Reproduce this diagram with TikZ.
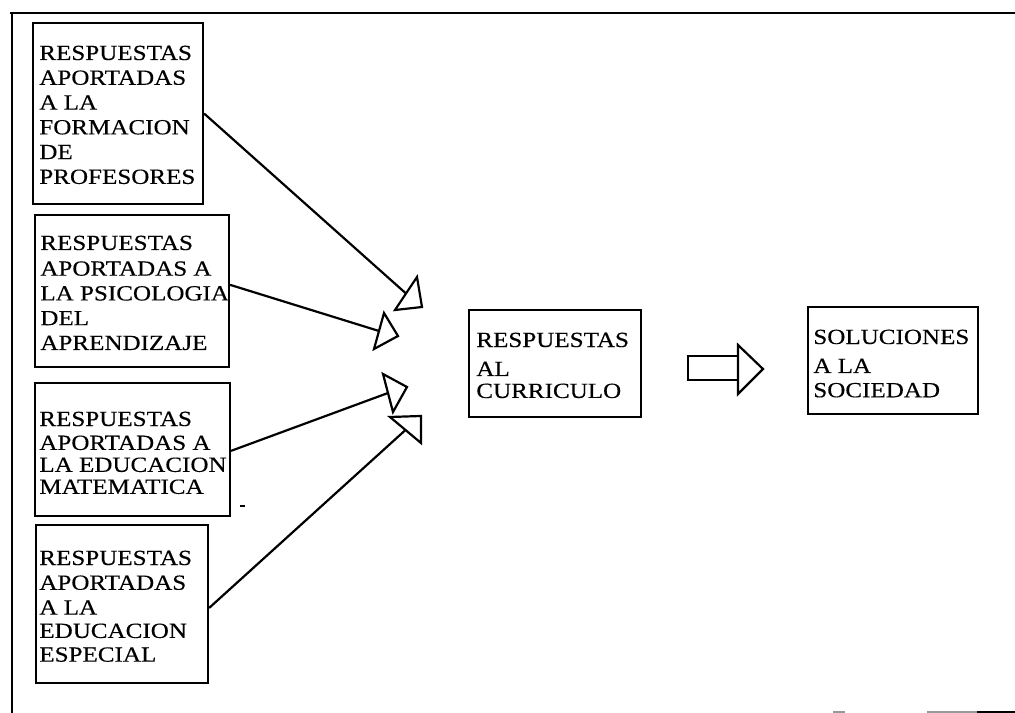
\documentclass[tikz,border=0pt]{standalone}
\usepackage{fontspec}
\setmainfont{Liberation Serif}
\newfontfamily\boxfont[FakeBold=0.3]{Liberation Serif}
\usepackage{graphicx}
\usetikzlibrary{calc}
\newcommand{\blocktext}[1]{\scalebox{1.16}[1]{\boxfont\fontsize{12.3}{14.1}\selectfont\begin{tabular}[t]{@{}l@{}}#1\end{tabular}}}
\tikzset{
  px/.style={x=0.02cm,y=-0.02cm},
  box/.style={draw,line width=1.25pt,inner sep=0pt},
  txt/.style={anchor=base west,inner sep=0pt},
  link/.style={line width=1.25pt},
  head/.style={draw,fill=white,line width=1.25pt,line join=miter},
  frame/.style={line width=1.3pt}
}
\begin{document}
\begin{tikzpicture}[px]
\useasboundingbox (0,0) rectangle (1015,713);
% frame
\draw[frame] (10,13) -- (1015,13);
\draw[frame] (12,13) -- (12,713);
\draw[line width=1pt,black!40] (927,712) -- (977,712);
\draw[line width=1pt] (977,712) -- (1015,712);
\draw[line width=1pt,black!40] (833,712) -- (845,712);
% boxes
\node[box,minimum width=3.4cm,minimum height=3.62cm] (b1) at (118,113.5) {};
\node[box,minimum width=3.88cm,minimum height=3.04cm] (b2) at (132,291) {};
\node[box,minimum width=3.9cm,minimum height=2.66cm] (b3) at (132.5,449.5) {};
\node[box,minimum width=3.44cm,minimum height=3.16cm] (b4) at (122,604) {};
\node[box,minimum width=3.44cm,minimum height=2.14cm] (c) at (555,363.5) {};
\node[box,minimum width=3.4cm,minimum height=2.14cm] (s) at (893,360.5) {};
% texts
\node[txt] (t1) at (39,60) {\blocktext{RESPUESTAS\\APORTADAS\\A LA\\FORMACION\\DE\\PROFESORES}};
\node[txt] (t2) at (40,250) {\blocktext{RESPUESTAS\\[0.5pt]APORTADAS A\\LA PSICOLOGIA\\DEL\\APRENDIZAJE}};
\node[txt] (t3) at (39,426) {\blocktext{RESPUESTAS\\[-0.5pt]APORTADAS A\\[-1.6pt]LA EDUCACION\\[-1.6pt]MATEMATICA}};
\node[txt] (t4) at (39,565) {\blocktext{RESPUESTAS\\APORTADAS\\A LA\\[-0.8pt]EDUCACION\\[-0.6pt]ESPECIAL}};
\node[txt] (tc) at (476,347) {\blocktext{RESPUESTAS\\[2.4pt]AL\\[-1.6pt]CURRICULO}};
\node[txt] (ts) at (813,344) {\blocktext{SOLUCIONES\\[2.4pt]A LA\\[-0.3pt]SOCIEDAD}};
% arrow end points (base midpoints of the open heads)
\coordinate (m1) at (406,293.5);
\coordinate (m2) at (379,331);
\coordinate (m3) at (388,393);
\coordinate (m4) at (405.5,430);
\draw[link] (b1.east) -- (m1);
\draw[link] ($(b2.north east)!0.46!(b2.south east)$) -- (m2);
\draw[link] ($(b3.north east)!0.51!(b3.south east)$) -- (m3);
\draw[link] ($(b4.north east)!0.525!(b4.south east)$) -- (m4);
% open triangular heads
\draw[head] (395,310) -- (417,277) -- (422,307) -- cycle;
\draw[head] (374,349) -- (384,313) -- (398,336) -- cycle;
\draw[head] (383,374) -- (407,387) -- (393,412) -- cycle;
\draw[head] (390,417) -- (421,416) -- (421,443) -- cycle;
% block arrow
\draw[line width=1.25pt] (688,356) rectangle (738,380);
\draw[head] (738,345) -- (763,369) -- (738,394) -- cycle;
% small mark
\draw[line width=1.3pt] (240,506) -- (245,506);
\end{tikzpicture}
\end{document}
